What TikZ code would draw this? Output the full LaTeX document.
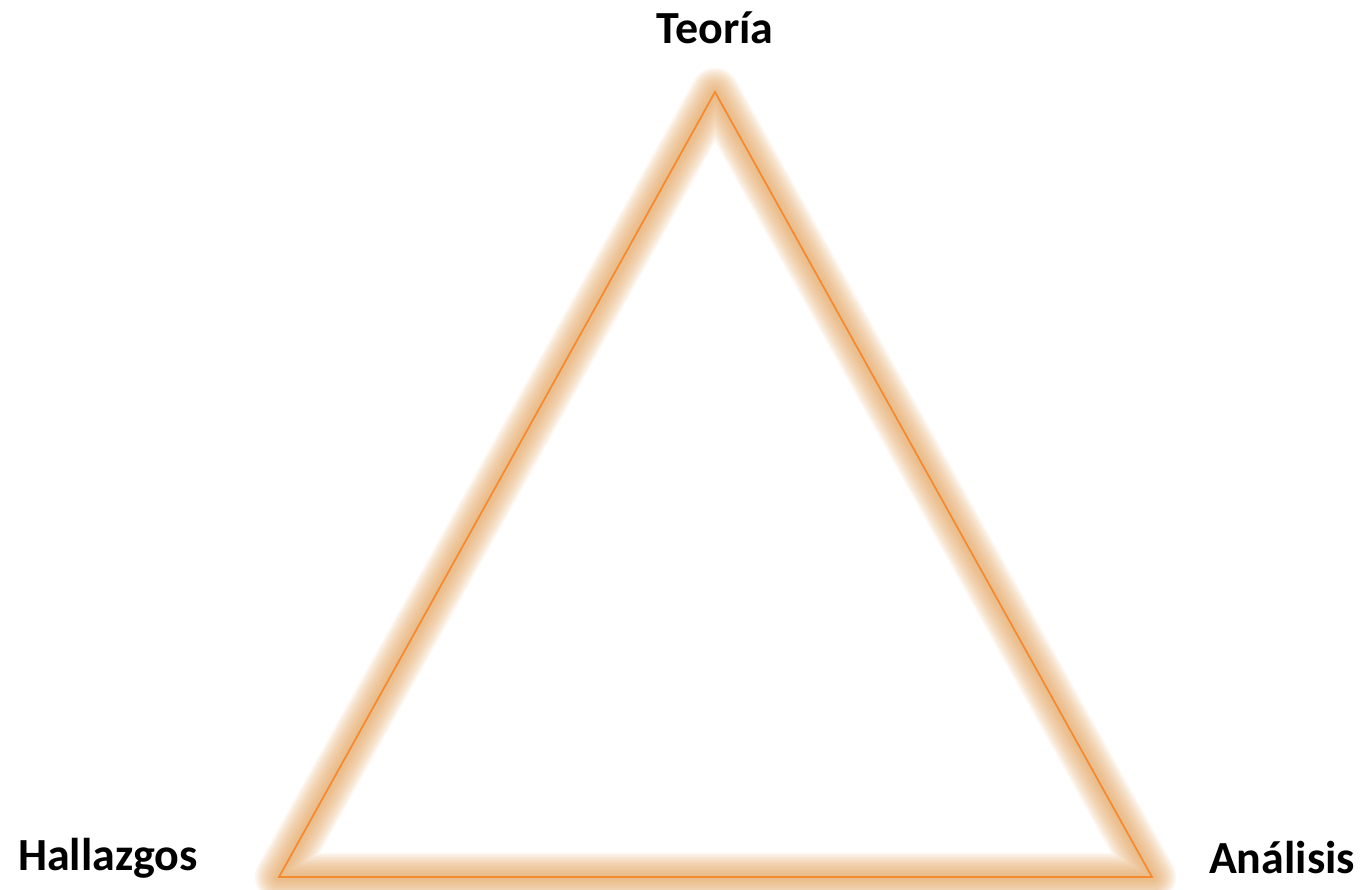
\documentclass[tikz,border=0pt]{standalone}
\usepackage{fontspec}
\setmainfont{Carlito}
\usepackage{tikz}

\definecolor{glow}{RGB}{226,162,92}
\definecolor{edge}{RGB}{245,138,48}

\tikzset{
    label text/.style={font=\fontsize{46}{50}\selectfont\bfseries, text=black, inner sep=0pt}
}

\begin{document}
\begin{tikzpicture}[x=1pt,y=-1pt]
    \useasboundingbox (0,0) rectangle (1365,889);

    \coordinate (top) at (715,92);
    \coordinate (left) at (279,877);
    \coordinate (right) at (1152,877);

    % soft orange glow round the triangle
    \foreach \w in {48,44,40,36,32,28,24,20,16,12,8}
        \draw[glow, line width=\w pt, opacity=0.1, line join=round] (top) -- (left) -- (right) -- cycle;
    \draw[edge, line width=1.8pt, line join=miter] (top) -- (left) -- (right) -- cycle;

    % labels
    \node[label text] (teoria) at (715,28) {Teoría};
    \node[label text] (hallazgos) at (108,858) {Hallazgos};
    \node[label text] (analisis) at (1282,858) {Análisis};
\end{tikzpicture}
\end{document}
